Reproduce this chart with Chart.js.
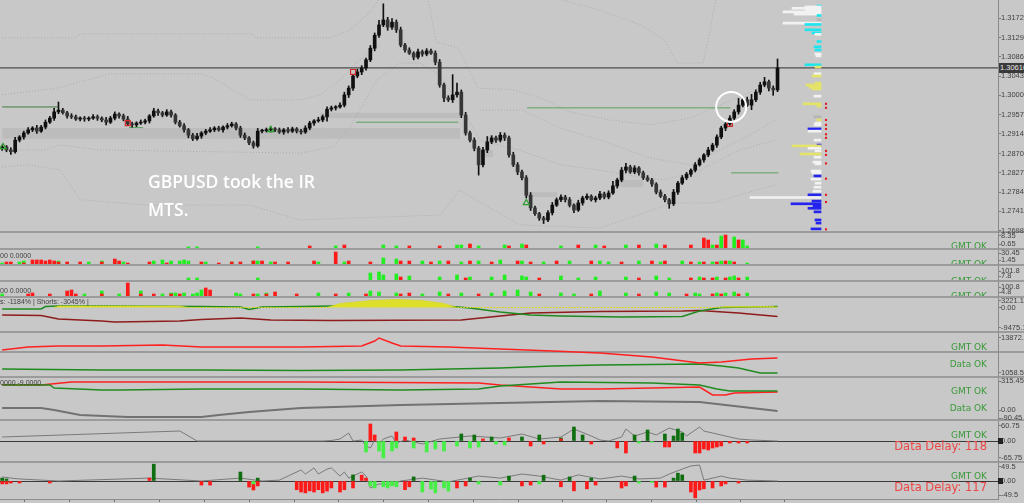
<!DOCTYPE html>
<html>
<head>
<meta charset="utf-8">
<title>GBPUSD</title>
<script src="https://cdn.jsdelivr.net/npm/chart.js@4.4.1/dist/chart.umd.min.js"></script>
<style>
  html, body { margin:0; padding:0; }
  body { width:1024px; height:503px; overflow:hidden; position:relative; background:#c8c8c8; font-family:'DejaVu Sans', sans-serif; }
  canvas { position:absolute; left:0; z-index:1; }
  .sep { position:absolute; left:0; width:1024px; height:2px; background:#9b9b9b; z-index:0; }
  .txt { position:absolute; z-index:3; white-space:nowrap; }
  .ok { font-size:9px; line-height:9px; color:#3a9a3a; right:37px; }
  .delay { font-size:11.5px; line-height:11.5px; color:#ee4646; right:37px; }
  .clip { position:absolute; left:880px; width:107px; overflow:hidden; z-index:3; }
  .clip .ok { right:0; }
  .ind { font-family:'Liberation Sans', sans-serif; font-size:7px; line-height:7px; color:#3e3e3e; left:0; }
  .note { left:148px; top:167px; color:#ffffff; font-family:'Open Sans', sans-serif; font-weight:600; font-size:17.5px; line-height:28px; }
  .pricebox { left:999px; top:63px; width:25px; height:10px; background:#3a3a3a; color:#e6e6e6; font-family:'Liberation Sans', sans-serif; font-size:7.5px; line-height:10px; padding-left:1px; overflow:hidden; }
  .zbox { left:998px; width:5px; height:6px; background:#222; }
</style>
</head>
<body>
<div class="sep" style="top:231px"></div>
<div class="sep" style="top:248px"></div>
<div class="sep" style="top:264px"></div>
<div class="sep" style="top:280px"></div>
<div class="sep" style="top:296px"></div>
<div class="sep" style="top:331px"></div>
<div class="sep" style="top:351px"></div>
<div class="sep" style="top:376px"></div>
<div class="sep" style="top:419px"></div>
<div class="sep" style="top:461px"></div>

<canvas id="main"></canvas>
<canvas id="prof"></canvas>
<canvas id="p1"></canvas>
<canvas id="p2"></canvas>
<canvas id="p3"></canvas>
<canvas id="p4"></canvas>
<canvas id="p5"></canvas>
<canvas id="p6"></canvas>
<canvas id="p7"></canvas>
<canvas id="p8"></canvas>
<canvas id="p9"></canvas>

<div class="txt note">GBPUSD took the IR<br>MTS.</div>
<div class="txt pricebox">1.30610</div>

<div class="clip" style="top:233px;height:15px"><div class="txt ok" style="top:9px">GMT OK</div></div>
<div class="clip" style="top:250px;height:14px"><div class="txt ok" style="top:10px">GMT OK</div></div>
<div class="clip" style="top:266px;height:14px"><div class="txt ok" style="top:10.7px">GMT OK</div></div>
<div class="clip" style="top:282px;height:14px"><div class="txt ok" style="top:9.7px">GMT OK</div></div>

<div class="txt ok" style="top:343px">GMT OK</div>
<div class="txt ok" style="top:360px">Data OK</div>
<div class="txt ok" style="top:387px">GMT OK</div>
<div class="txt ok" style="top:404px">Data OK</div>
<div class="txt ok" style="top:431px">GMT OK</div>
<div class="txt delay" style="top:441.2px">Data Delay: 118</div>
<div class="txt ok" style="top:471.5px">GMT OK</div>
<div class="txt delay" style="top:482.2px">Data Delay: 117</div>

<div class="txt ind" style="top:252px">00 0.0000</div>
<div class="txt ind" style="top:287px">00 0.0000</div>
<div class="txt ind" style="top:298px">s: -1184% | Shorts: -3045% |</div>
<div class="txt ind" style="top:379px">0000 -9.0000</div>
<div class="txt zbox" style="top:438px"></div>
<div class="txt zbox" style="top:478px"></div>

<script>
// ---- main window: price scale ----
const priceMin = 1.26951;
const priceMax = 1.32125;
const priceTicks = [1.3172, 1.3129, 1.3086, 1.3043, 1.3000, 1.2957, 1.2914, 1.2870, 1.2827, 1.2784, 1.2741, 1.2698];
const currentPrice = 1.3061;
const PIP = 0.0001;

// ---- candles (closes, wicks in pips) ----
const firstOpen = 1.2882;
const closes = [
  1.2885,1.2878,1.2874,1.2900,1.2907,1.2916,1.2923,1.2927,1.2920,1.2929,
  1.2940,1.2949,1.2963,1.2967,1.2961,1.2954,1.2952,1.2947,1.2949,1.2947,
  1.2949,1.2952,1.2949,1.2945,1.2940,1.2949,1.2958,1.2954,1.2947,1.2936,
  1.2934,1.2938,1.2940,1.2943,1.2954,1.2965,1.2961,1.2956,1.2963,1.2956,
  1.2940,1.2932,1.2923,1.2911,1.2903,1.2909,1.2916,1.2920,1.2923,1.2927,
  1.2923,1.2929,1.2932,1.2936,1.2927,1.2911,1.2905,1.2894,1.2887,1.2920,
  1.2921,1.2923,1.2925,1.2923,1.2918,1.2923,1.2920,1.2925,1.2920,1.2918,
  1.2927,1.2938,1.2943,1.2945,1.2952,1.2969,1.2972,1.2974,1.2978,1.3001,
  1.3016,1.3043,1.3052,1.3061,1.3079,1.3105,1.3134,1.3157,1.3168,1.3152,
  1.3163,1.3146,1.3112,1.3101,1.3094,1.3085,1.3097,1.3092,1.3099,1.3094,
  1.3074,1.3023,1.2994,1.2990,1.3001,1.3007,1.2956,1.2916,1.2900,1.2882,
  1.2845,1.2878,1.2896,1.2905,1.2900,1.2911,1.2905,1.2867,1.2845,1.2829,
  1.2816,1.2777,1.2749,1.2736,1.2726,1.2722,1.2738,1.2755,1.2767,1.2773,
  1.2767,1.2755,1.2744,1.2760,1.2771,1.2775,1.2767,1.2771,1.2780,1.2773,
  1.2782,1.2798,1.2811,1.2833,1.2840,1.2829,1.2838,1.2827,1.2816,1.2811,
  1.2802,1.2784,1.2775,1.2767,1.2758,1.2784,1.2804,1.2816,1.2824,1.2833,
  1.2845,1.2856,1.2867,1.2878,1.2889,1.2907,1.2927,1.2936,1.2949,1.2963,
  1.2978,1.2990,1.2978,1.2990,1.3007,1.3023,1.3030,1.3016,1.3012,1.3061
];
const wickUp = [
  4,3,5,6,3,4,5,3,6,4, 5,4,8,18,4,3,5,4,3,4, 3,5,4,3,6,4,5,3,4,6, 4,3,5,4,3,6,4,3,5,4,
  3,4,5,3,4,6,3,4,5,3, 4,3,5,4,3,4,5,3,4,6, 3,4,5,3,4,3,5,4,3,4, 5,4,3,6,4,5,4,3,5,6,
  5,4,6,5,4,6,5,10,36,6, 8,5,6,4,5,3,6,4,5,4, 5,6,4,5,45,20,5,6,4,5, 4,6,12,5,4,6,5,4,6,5,
  4,5,6,4,3,4,5,6,4,5, 4,5,3,6,4,5,3,4,6,4, 5,10,4,6,8,4,5,3,4,5, 4,3,5,4,3,6,4,5,4,3,
  5,4,3,6,4,5,4,3,6,5, 15,4,6,12,5,6,10,4,5,20
];
const wickDn = [
  5,4,6,3,4,5,3,4,5,3, 4,3,5,4,3,5,4,3,4,5, 4,3,5,4,6,3,4,5,4,3, 5,4,3,4,5,3,6,4,3,5,
  4,3,5,6,4,3,5,4,3,4, 3,5,4,3,4,5,4,4,5,3, 4,3,5,4,3,5,4,3,4,5, 3,4,5,3,4,10,4,5,3,4,
  6,5,4,6,5,4,6,5,4,7, 5,6,4,5,3,6,4,5,4,3, 6,5,8,4,6,5,6,5,4,6, 23,5,6,4,5,4,6,5,4,6,
  5,6,6,4,5,8,4,5,3,4, 5,4,6,3,5,4,3,5,4,4, 4,3,5,4,6,3,4,5,4,3, 5,4,3,5,10,4,5,3,4,5,
  4,3,5,4,3,5,4,6,3,4, 5,4,3,10,4,5,4,6,12,4
];

// ---- shaded zones, level lines, markers ----
const zoneFrom = [0, 73.4, 110.4, 121.2, 142.7];
const zoneTo   = [105.7, 105.7, 113.4, 128.1, 148.0];
const zoneHigh = [1.2927, 1.2961, 1.2878, 1.2784, 1.2811];
const zoneLow  = [1.2903, 1.2949, 1.2862, 1.2773, 1.2795];

const levelFrom  = [0, 81.7, 121.2, 168.3, 29.3];
const levelTo    = [13, 105.3, 168.1, 179.2, 32.5];
const levelPrice = [1.2974, 1.2940, 1.2972, 1.2827, 1.2928];

const markIdx   = [0.2, 29, 62, 81, 121, 168];
const markPrice = [1.2885, 1.2938, 1.2923, 1.3052, 1.2760, 1.2936];
const markSide  = ['buy', 'sell', 'buy', 'sell', 'buy', 'sell'];

const circleIdx = 168.3;
const circlePrice = 1.2974;

// dotted envelope lines [bar index, price]
const bandUpper = [[0,1.3128],[16.8,1.3128],[18,1.3137],[57.7,1.3137],[58.6,1.3128],[75.7,1.3128],[80.3,1.3146],[84.5,1.3181],[87.2,1.3217],[90,null],
  [98.3,1.3217],[100.2,1.3119],[105.2,1.3105],[109.9,1.3016],[118.4,1.3012],[125.3,1.2990],[131.1,1.2963],[140.3,1.2945],[149.6,1.2934],[158.8,1.2949],[165.7,1.2978],[172.6,1.3007],[178.6,1.3034]];
const bandTop2 = [[127.6,1.3217],[138,1.3190],[147.3,1.3157],[153,1.3123],[155.8,1.3072],[161.8,1.3072],[163,1.3123],[164.8,1.3217]];
const bandMid = [[0,1.3001],[12.7,1.3016],[24.9,1.3048],[45.7,1.3048],[48.7,1.3039],[52.6,1.3016],[57.2,1.2990],[68.8,1.2990],[73.4,1.3001],[78,1.3034],[82.6,1.3079],[87.2,1.3112],[95,null],
  [110.3,1.2967],[120.2,1.2967],[128.8,1.2927],[138,1.2900],[149.6,1.2860],[158.8,1.2845],[165.7,1.2878],[172.6,1.2911],[178.6,1.2945]];
const bandLow = [[0,1.2878],[9.9,1.2878],[13.4,1.2889],[22.6,1.2878],[68.8,1.2871],[76.4,1.2885],[80.3,1.2929],[86.5,1.3034],[91.8,1.3072],[96.5,1.3072],[101.1,1.3045],[105.7,1.2978],
  [110.3,1.2900],[119.5,1.2878],[128.8,1.2845],[138,1.2833],[150.3,1.2813],[153.5,1.2813],[161.1,1.2833],[170.3,1.2878],[178.6,1.2900]];
const bandBottom = [[0,1.2840],[6.4,1.2845],[13.4,1.2833],[18,1.2767],[34.1,1.2755],[57.2,1.2755],[68.8,1.2722],[101.1,1.2733],[105.7,1.2789],[109.2,1.2767],[119.5,1.2711],[138,1.2704],[154.9,1.2760],[164.1,1.2760],[170.3,1.2778],[178.6,1.2800]];

// ---- volume profile on the right ----
const profPrice = [1.3199,1.3197,1.3194,1.3190,1.3186,1.3181,1.3178,1.3168,1.3161,1.3158,1.3146,1.3139,1.3136,1.3120,1.3108,1.3101,1.3092,1.3088,
  1.3068,1.3063,1.3048,1.3043,1.3027,1.3023,1.3018,1.3014,1.2998,1.2981,1.2976,1.2952,1.2945,1.2938,1.2934,1.2925,1.2920,1.2900,1.2889,1.2887,
  1.2882,1.2876,1.2869,1.2862,1.2851,1.2847,1.2831,1.2827,1.2820,1.2813,1.2804,1.2795,1.2786,1.2778,1.2772,1.2764,1.2758,1.2753,1.2748,1.2740,
  1.2722,1.2715,1.2702];
const profVol = [4,16,29,16,38,27,4,4,38,16,16,9,6,4,7,6,6,5,
  16,6,7,9,6,15,12,9,7,18,4,7,4,6,7,13,13,7,4,29,
  13,6,21,7,8,6,10,9,7,10,6,7,8,13,71,9,30,8,13,7,
  6,5,10];
const profKind = ['c','w','w','w','w','w','c','g','w','c','c','c','w','c','c','c','w','w',
  'c','y','w','y','y','y','y','y','w','y','y','g','y','w','w','b','w','w','b','y',
  'w','w','y','w','w','w','w','w','b','w','w','w','w','b','w','b','b','b','b','b',
  'b','b','b'];
const flagPrice = [1.2981,1.2972,1.2945,1.2934,1.2925,1.2913,1.2905,1.2876,1.2867,1.2848,1.2814,1.2778,1.2762,1.2701];

// ---- time axis ticks (bar index) ----
const xTickIdx = [10.4,20.7,31.1,41.5,51.9,62.3,72.5,82.8,93.2,103.6,114.0,124.3,134.4,144.7,155.1,165.5,175.6];

// ---- sub-window 1..4: histograms [bar index, value] ----
const p1Ticks = [8.35, 0.65];
const p1Red = [[71,-1.1],[79,-0.2],[94,-1.1],[101,-1.1],[108,0.7],[117,-1.1],[121,-0.2],[133,-0.2],[139,-1.1],[147,-0.2],[153,-0.2],[159,-0.2],[162,6.3],[163,4.5],[165,-0.2],[167,9.1],[170,4.5]];
const p1Green = [[43,-2],[45,-2],[59,-2],[77,-1.1],[88,-0.2],[91,-1.1],[105,-0.2],[106,-0.2],[110,-1.1],[116,-0.2],[120,0.7],[129,-1.1],[137,-0.2],[144,-0.2],[151,0.7],[164,-0.2],[166,8.2],[169,7.3],[171,4.5],[172,-1.1]];

const p2Ticks = [30.45, 1.45];
const p2Red = [[1,-6.7],[2,-6.7],[5,-10.9],[7,1.6],[8,1.6],[9,1.6],[10,-2.6],[11,1.6],[12,-2.6],[13,-6.7],[15,-6.7],[18,-6.7],[23,-6.7],[26,5.7],[27,-2.6],[29,-10.9],
  [34,-6.7],[38,-10.9],[46,-6.7],[50,-10.9],[53,-6.7],[55,-6.7],[58,-2.6],[60,-2.6],[63,-6.7],[66,-6.7],[72,-2.6],[77,34.7],[80,-2.6],[85,-6.7],[92,-2.6],[94,-2.6],
  [99,-6.7],[103,-2.6],[108,-2.6],[113,-6.7],[119,-2.6],[122,-6.7],[128,-2.6],[136,-2.6],[143,-6.7],[150,-2.6],[153,-2.6],[159,-6.7],[162,-6.7],[165,-6.7],[167,-2.6],[169,-6.7]];
const p2Green = [[0,-10.9],[4,-6.7],[5,-2.6],[13,-2.6],[20,-6.7],[23,-2.6],[26,-2.6],[28,-6.7],[35,-2.6],[37,1.6],[39,-2.6],[41,-2.6],[42,1.6],[43,-2.6],[47,-6.7],[53,-6.7],
  [58,-2.6],[59,-2.6],[62,-6.7],[73,-6.7],[79,-6.7],[88,9.8],[91,5.7],[97,-2.6],[101,-2.6],[106,-6.7],[110,-2.6],[115,1.6],[120,-2.6],[125,-6.7],[131,-2.6],[138,-2.6],
  [140,-6.7],[147,-2.6],[152,-6.7],[157,-2.6],[161,-6.7],[164,-6.7],[166,-2.6],[168,-2.6],[172,-10.9]];

const p3Ticks = [101.8, 7.8];
const p3Green = [[43,-29.4],[45,-29.4],[59,-29.4],[85,64.6],[87,83.4],[88,27],[91,45.8],[94,8.2],[101,-10.6],[105,27],[108,-10.6],[113,-10.6],[116,27],[120,8.2],[121,-10.6],
  [129,8.2],[133,-29.4],[137,-10.6],[144,-10.6],[151,8.2],[154,-29.4],[161,-10.6],[165,-10.6],[168,-10.6],[169,8.2],[172,-10.6]];
const p3Red = [[92,-10.6],[107,-29.4],[124,-29.4],[147,-29.4],[159,-29.4],[162,-29.4],[164,-29.4],[167,-29.4],[170,-29.4]];

const p4Ticks = [100.8, 4.8];
const p4Red = [[6,-33.6],[7,-14.4],[11,-33.6],[15,24],[16,43.2],[17,-33.6],[23,-33.6],[29,177.6],[32,-33.6],[35,-33.6],[39,-33.6],[41,-33.6],[47,81.6],[48,43.2],[58,-33.6],
  [61,-33.6],[63,4.8],[68,-33.6],[77,-33.6],[84,-33.6],[92,-33.6],[94,-14.4],[103,-33.6],[110,-33.6],[124,-33.6],[136,-33.6],[147,-33.6],[158,-33.6],[164,-33.6],[166,-33.6],[170,-33.6]];
const p4Green = [[0,-33.6],[19,-33.6],[23,24],[27,-33.6],[29,-14.4],[32,24],[37,-33.6],[39,-14.4],[40,-14.4],[42,-14.4],[44,-33.6],[45,-14.4],[46,43.2],[54,-14.4],[55,-33.6],
  [59,-33.6],[61,-14.4],[73,-14.4],[80,-14.4],[85,24],[87,4.8],[91,-14.4],[97,-33.6],[101,4.8],[106,-14.4],[113,-14.4],[116,24],[119,43.2],[122,4.8],[129,-14.4],[132,-33.6],
  [138,24],[144,-14.4],[151,4.8],[154,-14.4],[160,-14.4],[161,-33.6],[165,-14.4],[167,-14.4],[169,4.8],[172,-14.4]];

// ---- sub-window 5: longs / shorts ----
const p5Ticks = [3221.1, 0, -9475.1];
const p5Green = [[0,-712],[9,-712],[10,475],[13,712],[23,712],[46,475],[55,237],[57,-950],[60,237],[69,475],[76,712],[101,950],[108,-237],[115,-2137],[122,-3562],[129,-4037],[143,-4512],[157,-4275],[161,-1662],[166,0],[179,475]];
const p5Yellow = [[12,0],[13,712],[41,712],[43,0],[75,0],[78,1900],[85,3300],[91,3800],[97,3300],[102,1900],[105,0],[165,0],[167,475],[178,475],[179,0]];
const p5DarkRed = [[0,-3562],[9,-3800],[13,-5462],[23,-6412],[26,-6887],[41,-6412],[46,-5700],[55,-4987],[62,-5937],[76,-6175],[106,-5937],[115,-4037],[122,-2612],[138,-1900],[157,-1662],[161,-1425],[170,-2612],[179,-4275]];

// ---- sub-window 6 ----
const p6Ticks = [13872.4, 1058.55];
const p6Red = [[0,9477],[6,10575],[13,10941],[23,10941],[37,11307],[46,10575],[69,10575],[83,10941],[86,12771],[87,13869],[90,12039],[92,10941],[103,10575],[115,9843],[127,9111],[138,8379],[150,6915],[161,4719],[166,5085],[173,6183],[179,6549]];
const p6Green = [[0,2523],[23,2157],[46,2157],[69,1974],[92,2157],[115,2889],[127,3621],[138,3987],[150,4170],[161,4353],[166,3621],[170,2889],[175,1058],[179,1058]];

// ---- sub-window 7 ----
const p7Ticks = [315.45, 0, -90.45];
const p7Red = [[0,275],[9,275],[16,308],[34,308],[69,308],[110,297],[115,275],[129,231],[138,231],[150,242],[161,253],[164,165],[167,165],[169,187],[179,198]];
const p7Green = [[0,275],[11,275],[12,242],[23,220],[27,220],[46,231],[69,231],[92,220],[110,231],[115,264],[129,308],[150,297],[161,275],[165,231],[168,209],[179,209]];
const p7Gray = [[0,22],[9,22],[12,0],[18,-55],[29,-77],[46,-77],[50,-55],[57,-22],[69,22],[92,55],[115,77],[138,99],[161,88],[179,-11]];

// ---- sub-window 8 ----
const p8Ticks = [60.75, 0, -65.75];
const p8Gray = [[0,16],[41,40],[45,0],[74,0],[76,2],[78,8],[80,32],[81,0],[83,4],[84,-20],[85,-28],[86,4],[87,-12],[88,8],[90,20],[91,-8],[93,4],[97,-12],[101,8],[108,20],[115,12],
  [120,28],[124,8],[129,16],[132,48],[136,20],[138,4],[140,0],[143,16],[144,48],[146,20],[149,36],[151,24],[154,52],[157,36],[158,20],[161,56],[162,40],[164,32],[166,24],[168,16],[170,8],[173,4],[179,0]];
const p8Red = [[85,68],[86,24],[91,36],[93,16],[95,12],[111,8],[117,12],[122,-20],[125,-12],[129,8],[136,-12],[142,-28],[144,-48],[153,-24],[154,-24],[160,-48],[161,-48],[162,-32],[163,-36],[164,-28],[165,-24],[166,-20],[168,-8],[170,-8],[172,-8]];
const p8Light = [[84,-44],[87,-40],[88,-68],[90,-40],[91,-28],[95,-28],[98,-44],[100,-32],[102,-40],[105,-20],[108,-28],[110,-24],[114,-12],[116,-16],[147,-8],[150,-4]];
const p8Dark = [[106,28],[109,24],[113,16],[120,16],[124,24],[129,12],[132,56],[134,24],[146,24],[149,44],[153,28],[155,20],[156,48],[157,32]];

// ---- sub-window 9 ----
const p9Ticks = [49.5, 0, -49.5];
const p9Gray = [[0,14],[2,10],[4,7],[13,0],[34,10],[46,0],[55,10],[60,0],[64,3],[69,38],[70,24],[72,45],[73,24],[75,41],[76,45],[78,17],[79,31],[80,10],[83,31],[84,17],[85,-24],[87,-10],
  [90,-14],[92,0],[97,10],[103,-3],[110,17],[115,10],[120,24],[124,17],[129,3],[133,21],[138,7],[143,17],[147,7],[152,10],[154,24],[157,41],[159,52],[161,55],[162,3],[166,17],[168,10],[172,3],[179,0]];
const p9Red = [[0,-10],[1,-10],[2,-7],[4,-7],[11,-7],[34,10],[46,-14],[48,-14],[57,-21],[58,-31],[59,-17],[68,-30],[69,-38],[70,-41],[71,-34],[72,-38],[73,-30],[74,-41],[75,-35],[76,-24],
  [78,-38],[79,-30],[81,-24],[83,20],[84,10],[93,-30],[94,-20],[105,-24],[107,-17],[120,-17],[122,-14],[129,-20],[132,-34],[135,-27],[137,-14],[143,-24],[144,-17],[151,-21],[153,-21],
  [159,-38],[160,-58],[161,-31],[162,-27],[164,-24],[166,-17],[167,-10],[170,-7]];
const p9Light = [[58,-10],[85,-17],[86,-24],[88,-20],[89,-24],[90,-17],[91,-20],[97,-38],[99,-28],[100,-41],[102,-24],[103,-35],[110,-10],[115,-14],[124,-10],[147,-7],[150,-5]];
const p9Dark = [[0,10],[1,7],[35,58],[55,31],[59,10],[81,21],[95,14],[108,10],[117,17],[125,20],[131,14],[136,10],[146,17],[155,10],[156,27],[157,21]];

// ================= drawing =================
const X_MIN = -0.5, X_MAX = 229.9;
const RED = '#ff1a1a', GREEN = '#22ee22', LIGHT = '#44f044', DARK = '#0f6e0f';
const LEVEL_COLORS = ['#3f7f3f', '#5aa35a', '#5aa35a', '#5aa35a', '#5aa35a'];
const PROFILE_COLORS = { w:'#f2f2f2', c:'#1ee6ee', y:'#e3e36a', b:'#2424ee', g:'#b5b5b5' };

function fmtTick(v) { return v === 0 ? '0.00' : String(v); }

function hiddenX() {
  return { type:'linear', display:false, min:X_MIN, max:X_MAX, offset:false, bounds:'data' };
}

function rightAxis(min, max, tickVals, fmt, zeroLine) {
  return {
    type:'linear', position:'right', min:min, max:max, bounds:'data', beginAtZero:false, offset:false,
    afterFit(s) { s.width = 26; s.paddingTop = 0; s.paddingBottom = 0; },
    afterBuildTicks(s) { s.ticks = tickVals.map(v => ({ value: v })); },
    ticks: { autoSkip:false, padding:0, color:'#424242', font:{ family:'Liberation Sans', size:7.5 }, callback: v => fmt(v) },
    grid: {
      drawOnChartArea: !!zeroLine, tickLength:3, tickColor:'#7a7a7a',
      color: c => (zeroLine && c.tick && c.tick.value === 0) ? '#3a3a3a' : 'rgba(0,0,0,0)'
    },
    border: { display:true, color:'#8a8a8a', width:1 }
  };
}

function lineDs(points, color, width, extra) {
  return Object.assign({
    type:'line', data: points.map(p => ({ x:p[0], y:p[1] })),
    borderColor:color, borderWidth:width, pointRadius:0, tension:0, fill:false
  }, extra || {});
}

function barDs(points, color, base) {
  return {
    type:'bar', grouped:false, barThickness:3, backgroundColor:color,
    data: points.map(p => ({ x:p[0], y: base === undefined ? p[1] : [base, p[1]] }))
  };
}

function makeChart(id, top, height, pad, scales, datasets, left, width) {
  const cv = document.getElementById(id);
  cv.width = width || 1024;
  cv.height = height + pad * 2;
  cv.style.top = (top - pad) + 'px';
  cv.style.left = (left || 0) + 'px';
  return new Chart(cv, {
    type:'bar',
    data:{ datasets: datasets },
    options:{
      responsive:false, animation:false, events:[],
      layout:{ autoPadding:false, padding:{ top:pad, bottom:pad, left:0, right:0 } },
      plugins:{ legend:{ display:false }, tooltip:{ enabled:false } },
      scales: scales
    }
  });
}

// ---- main price window ----
const opens = closes.map((c, i) => (i === 0 ? firstOpen : closes[i - 1]));
const candleBodies = closes.map((c, i) => ({ x:i, y:[opens[i], c] }));
const candleWicks = closes.map((c, i) => ({
  x:i, y:[Math.min(opens[i], c) - wickDn[i] * PIP, Math.max(opens[i], c) + wickUp[i] * PIP]
}));
const bodyColors = closes.map((c, i) => (c >= opens[i] ? '#101010' : '#363636'));

const mainSets = [];
zoneFrom.forEach((f, k) => {
  mainSets.push({
    type:'line', data:[{ x:f, y:zoneHigh[k] }, { x:zoneTo[k], y:zoneHigh[k] }],
    borderWidth:0, pointRadius:0, backgroundColor:'#bcbcbc', fill:{ value: zoneLow[k] }, order:20
  });
});
[bandUpper, bandTop2, bandMid, bandLow, bandBottom].forEach(b => {
  mainSets.push(lineDs(b, '#acacac', 1, { borderDash:[1, 2], order:15 }));
});
levelFrom.forEach((f, k) => {
  mainSets.push(lineDs([[f, levelPrice[k]], [levelTo[k], levelPrice[k]]], LEVEL_COLORS[k], 1, { order:12 }));
});
mainSets.push(lineDs([[X_MIN, currentPrice], [X_MAX, currentPrice]], '#4c4c4c', 1.2, { order:11 }));
mainSets.push({ type:'bar', data:candleWicks, backgroundColor:'#111111', barThickness:1, grouped:false, order:3 });
mainSets.push({ type:'bar', data:candleBodies, backgroundColor:bodyColors, barThickness:3, grouped:false, minBarLength:1, order:2 });
mainSets.push({
  type:'scatter', data: markIdx.map((x, k) => ({ x:x, y:markPrice[k] })),
  pointStyle: markSide.map(s => (s === 'buy' ? 'triangle' : 'rect')),
  pointRadius:3.5, pointBorderWidth:1.2, pointBackgroundColor:'rgba(0,0,0,0)',
  pointBorderColor: markSide.map(s => (s === 'buy' ? '#2e9e2e' : '#d42a2a')), order:1
});
mainSets.push({
  type:'scatter', data:[{ x:circleIdx, y:circlePrice }], pointStyle:'circle',
  pointRadius:15, pointBorderWidth:2, pointBorderColor:'#ffffff', pointBackgroundColor:'rgba(0,0,0,0)', order:0
});

makeChart('main', 0, 232, 8, {
  x: hiddenX(),
  y: rightAxis(priceMin, priceMax, priceTicks, v => v.toFixed(5), false)
}, mainSets);

// ---- volume profile overlay ----
makeChart('prof', 0, 232, 8, {
  x: { type:'linear', display:false, min:-9, max:81, reverse:true, offset:false, bounds:'data' },
  y: { type:'linear', display:false, min:priceMin, max:priceMax, offset:false, bounds:'data' }
}, [
  {
    type:'bar', indexAxis:'y', grouped:false, barThickness:2,
    data: profPrice.map((p, k) => ({ x:profVol[k], y:p })),
    backgroundColor: profKind.map(k => PROFILE_COLORS[k])
  },
  {
    type:'scatter', data: flagPrice.map(p => ({ x:-5, y:p })),
    pointStyle:'rect', pointRadius:1.5, pointBorderWidth:0, pointBackgroundColor:'#e02020'
  }
], 740, 90);

// ---- sub-windows ----
makeChart('p1', 233, 15, 6, { x:hiddenX(), y:rightAxis(-3, 11, p1Ticks, fmtTick, false) },
  [barDs(p1Red, RED, -3), barDs(p1Green, GREEN, -3)]);
makeChart('p2', 250, 14, 6, { x:hiddenX(), y:rightAxis(-15, 43, p2Ticks, fmtTick, false) },
  [barDs(p2Red, RED, -15), barDs(p2Green, GREEN, -15)]);
makeChart('p3', 266, 14, 6, { x:hiddenX(), y:rightAxis(-67, 196, p3Ticks, fmtTick, false) },
  [barDs(p3Red, RED, -67), barDs(p3Green, GREEN, -67)]);
makeChart('p4', 282, 14, 6, { x:hiddenX(), y:rightAxis(-72, 197, p4Ticks, fmtTick, false) },
  [barDs(p4Red, RED, -72), barDs(p4Green, GREEN, -72)]);

makeChart('p5', 298, 33, 6, { x:hiddenX(), y:rightAxis(-11160, 4510, p5Ticks, fmtTick, false) }, [
  lineDs(p5Yellow, '#d8d820', 1, { fill:'origin', backgroundColor:'#dede2c', borderDash:[2, 1] }),
  lineDs(p5Green, '#1f8a1f', 1.5),
  lineDs(p5DarkRed, '#8e1c1c', 1.5)
]);

makeChart('p6', 333, 43, 6, { x:hiddenX(), y:rightAxis(-40, 15700, p6Ticks, fmtTick, false) }, [
  lineDs(p6Red, '#ff2020', 1.5),
  lineDs(p6Green, '#1f8a1f', 1.5)
]);

makeChart('p7', 378, 41, 6, { x:hiddenX(), y:rightAxis(-99, 352, p7Ticks, fmtTick, false) }, [
  lineDs(p7Gray, '#727272', 2),
  lineDs(p7Green, '#1f8a1f', 1.5),
  lineDs(p7Red, '#ff2020', 1.5)
]);

makeChart('p8', 421, 40, 6, { x:hiddenX(), y:rightAxis(-80, 80, p8Ticks, fmtTick, true) }, [
  barDs(p8Light, LIGHT), barDs(p8Red, RED), barDs(p8Dark, DARK),
  lineDs(p8Gray, '#7a7a7a', 1)
]);

makeChart('p9', 463, 36, 6, {
  x: {
    type:'linear', display:true, position:'bottom', min:X_MIN, max:X_MAX, offset:false, bounds:'data',
    afterFit(s) { s.height = 0; s.paddingLeft = 0; s.paddingRight = 0; },
    afterBuildTicks(s) { s.ticks = xTickIdx.map(v => ({ value: v })); },
    ticks: { display:false },
    grid: { drawOnChartArea:false, drawTicks:true, tickLength:3, tickColor:'#6e6e6e', color:'#6e6e6e' },
    border: { display:true, color:'#8c8c8c', width:1 }
  },
  y: rightAxis(-62, 62, p9Ticks, fmtTick, true)
}, [
  barDs(p9Light, LIGHT), barDs(p9Red, RED), barDs(p9Dark, DARK),
  lineDs(p9Gray, '#7a7a7a', 1)
]);
</script>
</body>
</html>
